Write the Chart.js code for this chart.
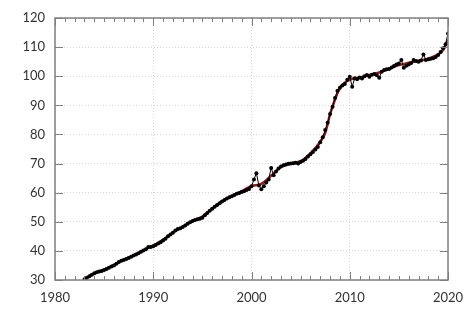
<!DOCTYPE html>
<html>
<head>
<meta charset="utf-8">
<script src="https://cdn.jsdelivr.net/npm/chart.js@4.4.0/dist/chart.umd.min.js"></script>
<style>
html, body { margin: 0; padding: 0; background: #fff; }
</style>
</head>
<body>
<canvas id="chart" width="474" height="316"></canvas>
<script>
// quarterly observations, first one is 1983 Q1
const firstYear = 1983;
const observed = [
  30.3, 30.8, 31.3, 31.8,
  32.3, 32.7, 32.9, 33.1,
  33.4, 33.8, 34.2, 34.6,
  35.0, 35.6, 36.2, 36.6,
  36.9, 37.2, 37.6, 38.0,
  38.4, 38.8, 39.2, 39.7,
  40.1, 40.6, 41.3, 41.3,
  41.6, 42.0, 42.5, 43.0,
  43.6, 44.2, 45.0, 45.6,
  46.2, 47.0, 47.5, 47.8,
  48.2, 48.7, 49.3, 49.8,
  50.3, 50.6, 50.9, 51.0,
  51.4, 52.2, 53.0, 53.8,
  54.5, 55.2, 55.8, 56.4,
  57.0, 57.5, 58.0, 58.4,
  58.8, 59.2, 59.6, 59.9,
  60.2, 60.5, 60.9, 61.3,
  62.2, 64.5, 66.7, 62.5,
  61.2, 62.2, 63.5, 64.5,
  68.5, 66.0, 67.3, 68.3,
  69.0, 69.4, 69.7, 69.9,
  70.0, 70.1, 70.3, 70.0,
  70.5, 71.0, 71.6, 72.4,
  73.2, 74.0, 74.8, 75.7,
  77.3, 79.0, 81.5, 84.0,
  87.0, 89.5, 92.5, 95.0,
  96.0, 96.8, 97.3, 98.8,
  99.8, 96.4, 99.3, 99.0,
  99.6, 99.2, 100.0, 100.4,
  99.8, 100.5, 100.8, 100.3,
  99.5, 101.5, 102.1, 102.4,
  102.5, 103.0, 103.5, 104.0,
  104.4, 105.6, 102.9, 103.6,
  104.0, 104.5, 105.6, 105.2,
  105.0, 105.4, 107.5, 105.6,
  105.8, 106.0, 106.2, 106.6,
  107.3, 108.3, 109.6, 111.0,
  114.7
];

// smoothed trend
const trendYears = [1983, 1984, 1985, 1986, 1987, 1988, 1989, 1990, 1991, 1992, 1993, 1994, 1995, 1996, 1997, 1998, 1999, 2000, 2001, 2002, 2003, 2004, 2005, 2006, 2007, 2007.5, 2008, 2008.5, 2009, 2009.5, 2010, 2011, 2012, 2013, 2014, 2015, 2016, 2017, 2018, 2019, 2019.5, 2020];
const trendValues = [30.5, 32.2, 33.6, 35.2, 37.0, 38.5, 40.2, 41.8, 43.8, 46.3, 48.3, 50.2, 51.8, 54.5, 57.0, 58.9, 60.5, 62.3, 63.0, 65.8, 68.8, 70.0, 70.8, 73.5, 77.5, 80.5, 87.0, 92.0, 96.0, 97.8, 98.8, 99.6, 100.4, 101.3, 102.5, 103.8, 104.6, 105.3, 106.0, 107.5, 109.0, 112.5];

const xTicks = [1980, 1990, 2000, 2010, 2020];
const yTicks = [30, 40, 50, 60, 70, 80, 90, 100, 110, 120];

const points = observed.map((v, i) => ({ x: firstYear + i / 4, y: v }));
const trend = trendYears.map((t, i) => ({ x: t, y: trendValues[i] }));

const frame = {
  id: 'frame',
  afterDatasetsDraw(chart) {
    const { ctx, chartArea: a, scales: { x, y } } = chart;
    ctx.save();
    ctx.strokeStyle = '#808080';
    ctx.lineWidth = 1;
    ctx.beginPath();
    for (let yr = xTicks[0]; yr <= xTicks[xTicks.length - 1]; yr++) {
      const px = Math.round(x.getPixelForValue(yr)) + 0.5;
      const len = yr % 10 === 0 ? 8 : 4;
      ctx.moveTo(px, a.bottom); ctx.lineTo(px, a.bottom - len);
      ctx.moveTo(px, a.top); ctx.lineTo(px, a.top + len);
    }
    yTicks.forEach(v => {
      const py = Math.round(y.getPixelForValue(v)) + 0.5;
      ctx.moveTo(a.left, py); ctx.lineTo(a.left + 8, py);
      ctx.moveTo(a.right, py); ctx.lineTo(a.right - 8, py);
    });
    ctx.stroke();
    ctx.lineWidth = 1.5;
    ctx.strokeRect(a.left, a.top, a.right - a.left, a.bottom - a.top);
    ctx.restore();
  }
};

new Chart(document.getElementById('chart'), {
  type: 'scatter',
  data: {
    datasets: [
      {
        data: points,
        showLine: true,
        borderColor: '#000',
        borderWidth: 1,
        backgroundColor: '#000',
        pointRadius: 2,
        pointBorderWidth: 0,
        order: 1
      },
      {
        data: trend,
        showLine: true,
        borderColor: '#a01818',
        borderWidth: 2.5,
        pointRadius: 0,
        cubicInterpolationMode: 'monotone',
        order: 2
      }
    ]
  },
  options: {
    responsive: false,
    animation: false,
    layout: { padding: { top: 18, right: 26, left: 0, bottom: 0 } },
    plugins: { legend: { display: false }, tooltip: { enabled: false } },
    scales: {
      x: {
        type: 'linear',
        min: 1980, max: 2020,
        afterFit: s => { s.height = 36; },
        afterBuildTicks: s => { s.ticks = xTicks.map(v => ({ value: v })); },
        ticks: { color: '#333', font: { family: 'Lato', size: 13 }, padding: 10, callback: v => String(v) },
        grid: { color: '#d8d8d8', drawTicks: false, lineWidth: 1 },
        border: { display: false, dash: [1, 2] }
      },
      y: {
        min: 30, max: 120,
        afterFit: s => { s.width = 55; },
        afterBuildTicks: s => { s.ticks = yTicks.map(v => ({ value: v })); },
        ticks: { color: '#333', font: { family: 'Lato', size: 13 }, padding: 10 },
        grid: { color: '#d8d8d8', drawTicks: false, lineWidth: 1 },
        border: { display: false, dash: [1, 2] }
      }
    }
  },
  plugins: [frame]
});
</script>
</body>
</html>
